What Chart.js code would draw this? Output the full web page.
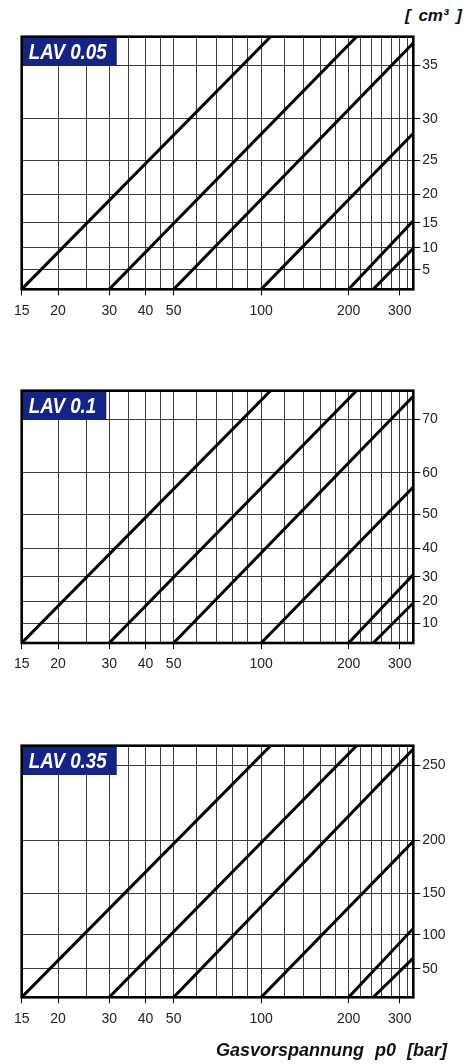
<!DOCTYPE html>
<html>
<head>
<meta charset="utf-8">
<script src="https://cdn.jsdelivr.net/npm/chart.js@4/dist/chart.umd.min.js"></script>
<style>
  html, body { margin: 0; padding: 0; background: #fff; }
  #sheet { position: relative; width: 472px; height: 1064px; overflow: hidden; background: #fff; }
  canvas { position: absolute; left: 0; }
  .unit, .xtitle {
    position: absolute; white-space: pre; color: #111;
    font-family: "Liberation Sans", Arial, sans-serif; font-weight: bold; font-style: italic;
  }
  .unit { right: 10px; top: 7px; font-size: 17px; line-height: 17px; word-spacing: 3px; }
  .xtitle { right: 25px; top: 1041px; font-size: 18px; line-height: 18px; word-spacing: 6px; }
</style>
</head>
<body>
<div id="sheet">
  <div class="unit">[ cm³ ]</div>
  <canvas id="lav005" width="472" height="340" style="top:0px"></canvas>
  <canvas id="lav01" width="472" height="340" style="top:354.3px"></canvas>
  <canvas id="lav035" width="472" height="340" style="top:709px"></canvas>
  <div class="xtitle">Gasvorspannung p0 [bar]</div>
</div>
<script>
// Pressure axis (bar), logarithmic
const pressureGrid = [15, 20, 25, 30, 35, 40, 45, 50, 60, 70, 80, 90, 100, 120, 140, 160, 180, 200, 220, 240, 260, 280, 300, 320];
const pressureLabels = [15, 20, 30, 40, 50, 100, 200, 300];
const pressureMin = 15;
const pressureMax = 334;

// Every curve starts at zero volume at its pre-charge pressure
const curveStart = [15, 30, 50, 100, 200, 243];
// Pressure where each curve leaves the plot (top edge or right edge)
const curveEndPressure = [107.8, 213, 334, 334, 334, 334];

// LAV 0.05 (nominal 50 cm³)
const lav005Ticks = [5, 10, 15, 20, 25, 30, 35];
const lav005EndVolume = [37.15, 37.15, 36.7, 28.4, 15.4, 9.9];
// LAV 0.1 (nominal 100 cm³)
const lav01Ticks = [10, 20, 30, 40, 50, 60, 70];
const lav01EndVolume = [74.3, 74.3, 73.5, 56.8, 30.8, 19.4];
// LAV 0.35 (nominal 350 cm³)
const lav035Ticks = [50, 100, 150, 200, 250];
const lav035EndVolume = [260, 260, 258.4, 199.2, 108.7, 66.9];

const FONT = '"Liberation Sans", Arial, sans-serif';

// Volume axis: distance is proportional to -log(capacity - V)
class CapacityScale extends Chart.Scale {
  static id = 'capacity';
  static defaults = {};
  parse(raw) { return raw === null || raw === undefined ? null : +raw; }
  determineDataLimits() {
    this.min = this.options.min;
    this.max = this.options.max;
  }
  buildTicks() {
    return this.options.tickValues.map(v => ({ value: v }));
  }
  _t(v) { return -Math.log10(this.options.capacity - v); }
  configure() {
    super.configure();
    this._t0 = this._t(this.min);
    this._t1 = this._t(this.max);
  }
  getLabelForValue(v) { return String(v); }
  getPixelForValue(v) {
    return this.getPixelForDecimal((this._t(v) - this._t0) / (this._t1 - this._t0));
  }
  getValueForPixel(px) {
    const t = this._t0 + this.getDecimalForPixel(px) * (this._t1 - this._t0);
    return this.options.capacity - Math.pow(10, -t);
  }
}
Chart.register(CapacityScale);

// Frame and type badge
const panelDecor = {
  id: 'panelDecor',
  afterDraw(chart, args, opts) {
    const { ctx, chartArea: a } = chart;
    ctx.save();
    ctx.font = 'italic bold 22px ' + FONT;
    const squeeze = 0.855;
    const w = ctx.measureText(opts.text).width * squeeze;
    ctx.fillStyle = '#142387';
    ctx.fillRect(a.left, a.top, w + 17, 29.3);
    ctx.strokeStyle = '#000';
    ctx.lineWidth = 2.6;
    ctx.strokeRect(a.left, a.top, a.right - a.left, a.bottom - a.top);
    ctx.fillStyle = '#fff';
    ctx.translate(a.left + 7, a.top + 22.6);
    ctx.scale(squeeze, 1);
    ctx.textBaseline = 'alphabetic';
    ctx.fillText(opts.text, 0, 0);
    ctx.restore();
  }
};

function buildPanel(id, text, capacity, yTicks, yMax, endVolume, plotHeight) {
  const datasets = curveStart.map((p0, i) => ({
    data: [{ x: p0, y: 0 }, { x: curveEndPressure[i], y: endVolume[i] }],
    showLine: true,
    borderColor: '#000',
    borderWidth: 3,
    pointRadius: 0,
    tension: 0,
    fill: false
  }));
  return new Chart(document.getElementById(id), {
    type: 'scatter',
    data: { datasets },
    plugins: [panelDecor],
    options: {
      responsive: false,
      devicePixelRatio: 1,
      animation: false,
      events: [],
      layout: { padding: { left: 21.7, top: 36.7, right: 0, bottom: 0 } },
      plugins: {
        legend: { display: false },
        tooltip: { enabled: false },
        panelDecor: { text }
      },
      scales: {
        x: {
          type: 'logarithmic',
          min: pressureMin,
          max: pressureMax,
          afterBuildTicks: s => { s.ticks = pressureGrid.map(v => ({ value: v })); },
          afterFit: s => { s.height = 340 - 36.7 - plotHeight; },
          border: { display: false },
          grid: {
            color: '#3a3a3a',
            lineWidth: 1,
            tickLength: 6,
            tickColor: c => (c.tick && pressureLabels.includes(c.tick.value)) ? '#000' : 'rgba(0,0,0,0)'
          },
          ticks: {
            autoSkip: false, maxRotation: 0, minRotation: 0, padding: 7,
            color: '#222', font: { family: FONT, size: 14 },
            callback: v => pressureLabels.includes(v) ? String(v) : ''
          }
        },
        y: {
          type: 'capacity',
          position: 'right',
          min: 0,
          max: yMax,
          capacity,
          tickValues: yTicks,
          afterFit: s => { s.width = 472 - 413.3; },
          border: { display: false },
          grid: { color: '#3a3a3a', lineWidth: 1, tickLength: 7, tickColor: '#000' },
          ticks: { padding: 2, color: '#222', font: { family: FONT, size: 14 } }
        }
      }
    }
  });
}

buildPanel('lav005', 'LAV 0.05', 50, lav005Ticks, 37.15, lav005EndVolume, 252.6);
buildPanel('lav01', 'LAV 0.1', 100, lav01Ticks, 74.3, lav01EndVolume, 252.3);
buildPanel('lav035', 'LAV 0.35', 350, lav035Ticks, 260, lav035EndVolume, 251.6);
</script>
</body>
</html>
